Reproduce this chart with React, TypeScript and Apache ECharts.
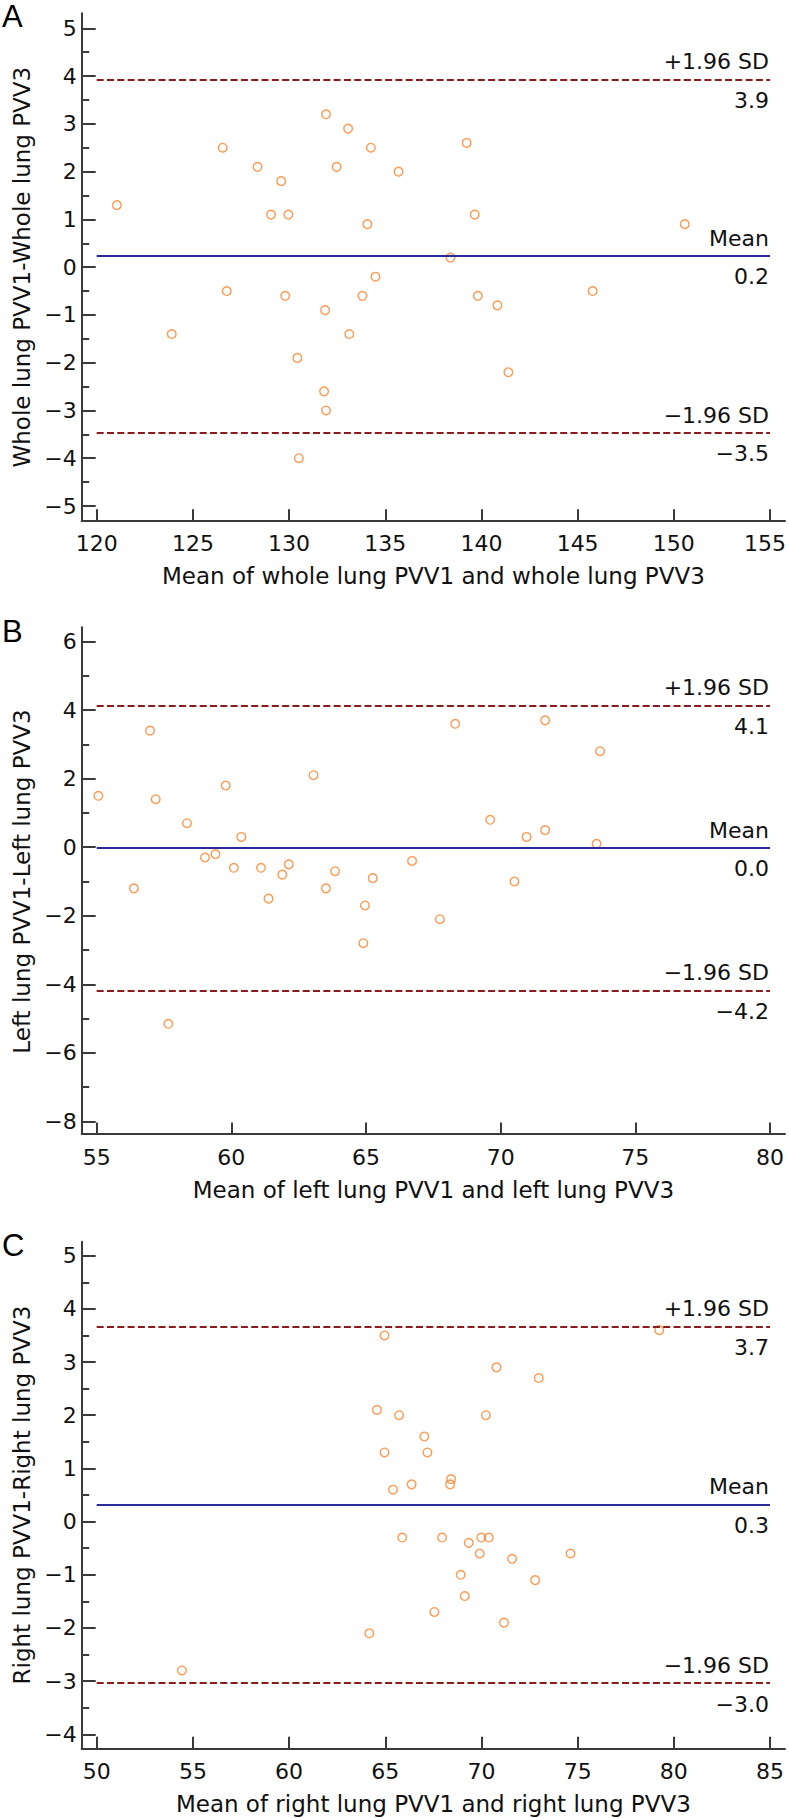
import React, { useEffect, useRef } from "react";
import * as echarts from "echarts";

// ---------- data ----------
const wholeMean = [121.05, 123.9, 126.55, 126.76, 128.36, 129.06, 129.59, 129.8, 129.96, 130.43, 130.51, 131.82, 131.87, 131.92, 131.92, 132.47, 133.07, 133.13, 133.81, 134.07, 134.25, 134.49, 135.69, 138.39, 139.23, 139.65, 139.81, 140.83, 141.4, 145.78, 150.57];
const wholeDiff = [1.3, -1.4, 2.5, -0.5, 2.1, 1.1, 1.8, -0.6, 1.1, -1.9, -4.0, -2.6, -0.9, 3.2, -3.0, 2.1, 2.9, -1.4, -0.6, 0.9, 2.5, -0.2, 2.0, 0.2, 2.6, 1.1, -0.6, -0.8, -2.2, -0.5, 0.9];
const wholeLines = [3.93, 0.23, -3.47];
const wholeLineLabels = ["3.9", "0.2", "\u22123.5"];

const leftMean = [55.06, 56.38, 56.98, 57.19, 57.66, 58.35, 59.02, 59.41, 59.79, 60.09, 60.37, 61.1, 61.38, 61.89, 62.13, 63.05, 63.51, 63.85, 64.9, 64.96, 65.25, 66.71, 67.74, 68.31, 69.61, 70.51, 70.96, 71.65, 71.65, 73.56, 73.69];
const leftDiff = [1.5, -1.2, 3.4, 1.4, -5.15, 0.7, -0.3, -0.2, 1.8, -0.6, 0.3, -0.6, -1.5, -0.8, -0.5, 2.1, -1.2, -0.7, -2.8, -1.7, -0.9, -0.4, -2.1, 3.6, 0.8, -1.0, 0.3, 0.5, 3.7, 0.1, 2.8];
const leftLines = [4.14, -0.02, -4.18];
const leftLineLabels = ["4.1", "0.0", "\u22124.2"];

const rightMean = [54.43, 64.17, 64.57, 64.96, 64.96, 65.4, 65.72, 65.88, 66.37, 67.03, 67.19, 67.55, 67.95, 68.37, 68.42, 68.92, 69.13, 69.34, 69.91, 69.99, 70.23, 70.38, 70.78, 71.17, 71.59, 72.79, 72.98, 74.63, 79.24];
const rightDiff = [-2.8, -2.1, 2.1, 3.5, 1.3, 0.6, 2.0, -0.3, 0.7, 1.6, 1.3, -1.7, -0.3, 0.7, 0.8, -1.0, -1.4, -0.4, -0.6, -0.3, 2.0, -0.3, 2.9, -1.9, -0.7, -1.1, 2.7, -0.6, 3.6];
const rightLines = [3.67, 0.32, -3.04];
const rightLineLabels = ["3.7", "0.3", "\u22123.0"];

const lineNames = ["+1.96 SD", "Mean", "\u22121.96 SD"];
const panelLetters = ["A", "B", "C"];
const xTitles = [
  "Mean of whole lung PVV1 and whole lung PVV3",
  "Mean of left lung PVV1 and left lung PVV3",
  "Mean of right lung PVV1 and right lung PVV3",
];
const yTitles = [
  "Whole lung PVV1-Whole lung PVV3",
  "Left lung PVV1-Left lung PVV3",
  "Right lung PVV1-Right lung PVV3",
];
const xRanges = [[120, 155, 5], [55, 80, 5], [50, 85, 5]];
const yRanges = [[-5, 5, 1], [-8, 6, 2], [-4, 5, 1]];

// ---------- layout (pixels) ----------
const layout = [
  { top: 28.3, height: 477.7, lineTop: 13.3, lineHeight: 507.4, xOff: 14.7, letterY: 16 },
  { top: 641.5, height: 480, lineTop: 627.3, lineHeight: 506.7, xOff: 12.5, letterY: 631 },
  { top: 1255.7, height: 478.6, lineTop: 1241.7, lineHeight: 506.6, xOff: 14, letterY: 1245 },
];

const FONT = "DejaVu Sans";
const AXIS_COLOR = "#3a3a3a";
const TEXT_COLOR = "#111";
const minus = (v: number) => String(v).replace("-", "\u2212");

export default function App() {
  const ref = useRef<HTMLDivElement>(null);
  useEffect(() => {
    document.body.style.margin = "0";
    const chart = echarts.init(ref.current!, null, { renderer: "svg" });
    const xsAll = [wholeMean, leftMean, rightMean];
    const ysAll = [wholeDiff, leftDiff, rightDiff];
    const linesAll = [wholeLines, leftLines, rightLines];
    const lineLabelsAll = [wholeLineLabels, leftLineLabels, rightLineLabels];

    const grid: any[] = [];
    const xAxis: any[] = [];
    const yAxis: any[] = [];
    const series: any[] = [];
    const graphic: any[] = [];

    for (let i = 0; i < 3; i++) {
      const L = layout[i];
      grid.push({ left: 96.7, right: 19, top: L.top, height: L.height, containLabel: false, outerBoundsMode: "none" });
      grid.push({ left: 81.7, right: 4, top: L.lineTop, height: L.lineHeight, containLabel: false, outerBoundsMode: "none" });
      const [xmin, xmax, xstep] = xRanges[i];
      const [ymin, ymax, ystep] = yRanges[i];
      xAxis.push({
        type: "value", gridIndex: 2 * i, min: xmin, max: xmax, interval: xstep,
        position: "bottom", offset: L.xOff,
        axisLine: { show: false, onZero: false },
        axisTick: { show: true, inside: true, length: 11.5, lineStyle: { color: AXIS_COLOR, width: 2 } },
        splitLine: { show: false },
        axisLabel: {
          margin: 12, fontSize: 22, fontFamily: FONT, color: TEXT_COLOR,
          formatter: (v: number) => (v === xmax && String(v).length >= 3 ? `{m|${minus(v)}}` : minus(v)),
          rich: { m: { fontSize: 22, fontFamily: FONT, color: TEXT_COLOR, padding: [0, 10, 0, 0] } },
        },
        name: xTitles[i], nameLocation: "middle", nameGap: 44,
        nameTextStyle: { fontSize: 23, fontFamily: FONT, color: TEXT_COLOR },
      });
      xAxis.push({
        type: "value", gridIndex: 2 * i + 1, min: 0, max: 1, position: "bottom",
        axisLine: { show: true, onZero: false, lineStyle: { color: AXIS_COLOR, width: 2 } },
        axisTick: { show: false }, axisLabel: { show: false }, splitLine: { show: false },
      });
      yAxis.push({
        type: "value", gridIndex: 2 * i, min: ymin, max: ymax, interval: ystep,
        position: "left", offset: 15,
        axisLine: { show: false, onZero: false },
        axisTick: { show: true, inside: true, length: 14, lineStyle: { color: AXIS_COLOR, width: 2 } },
        minorTick: { show: true, splitNumber: 2, length: 7.5, lineStyle: { color: AXIS_COLOR, width: 2 } },
        splitLine: { show: false },
        axisLabel: { margin: 5, fontSize: 22, fontFamily: FONT, color: TEXT_COLOR, formatter: minus },
        name: yTitles[i], nameLocation: "middle", nameGap: 38,
        nameTextStyle: { fontSize: 23, fontFamily: FONT, color: TEXT_COLOR },
      });
      yAxis.push({
        type: "value", gridIndex: 2 * i + 1, min: 0, max: 1, position: "left",
        axisLine: { show: true, onZero: false, lineStyle: { color: AXIS_COLOR, width: 2 } },
        axisTick: { show: false }, axisLabel: { show: false }, splitLine: { show: false },
      });

      const lines = linesAll[i];
      const mlData: any[] = [];
      for (let k = 0; k < 3; k++) {
        const style = k === 1
          ? { color: "#2a2a9a", width: 2.2, type: "solid" }
          : { color: "#8b1a1a", width: 2, type: [7, 3.3] };
        mlData.push({
          yAxis: lines[k], lineStyle: style,
          label: { formatter: lineNames[k], position: "insideEndTop", distance: [1, 6.6], color: TEXT_COLOR },
        });
        mlData.push({
          yAxis: lines[k], lineStyle: { color: "rgba(0,0,0,0)", width: 0 },
          label: { formatter: lineLabelsAll[i][k], position: "insideEndBottom", distance: [1, 9.8], color: TEXT_COLOR },
        });
      }
      series.push({
        type: "scatter", xAxisIndex: 2 * i, yAxisIndex: 2 * i, data: [], z: 1, silent: true,
        markLine: {
          symbol: ["none", "none"], silent: true, animation: false,
          label: { color: TEXT_COLOR, fontSize: 22, fontFamily: FONT },
          emphasis: { disabled: true },
          data: mlData,
        },
      });
      series.push({
        type: "scatter", xAxisIndex: 2 * i, yAxisIndex: 2 * i, z: 3, silent: true,
        symbol: "circle", symbolSize: 8.6,
        itemStyle: { color: "rgba(255,255,255,0)", borderColor: "#ff7f27", borderWidth: 1.4 },
        data: xsAll[i].map((x, j) => [x, ysAll[i][j]]),
      });
      graphic.push({
        type: "text", x: 2, y: L.letterY,
        style: { text: panelLetters[i], fontSize: 31, fontFamily: "Liberation Sans", fill: "#000", verticalAlign: "middle" },
      });
    }

    chart.setOption({ animation: false, grid, xAxis, yAxis, series, graphic });
    return () => chart.dispose();
  }, []);
  return <div ref={ref} style={{ width: 789, height: 1818 }} />;
}
